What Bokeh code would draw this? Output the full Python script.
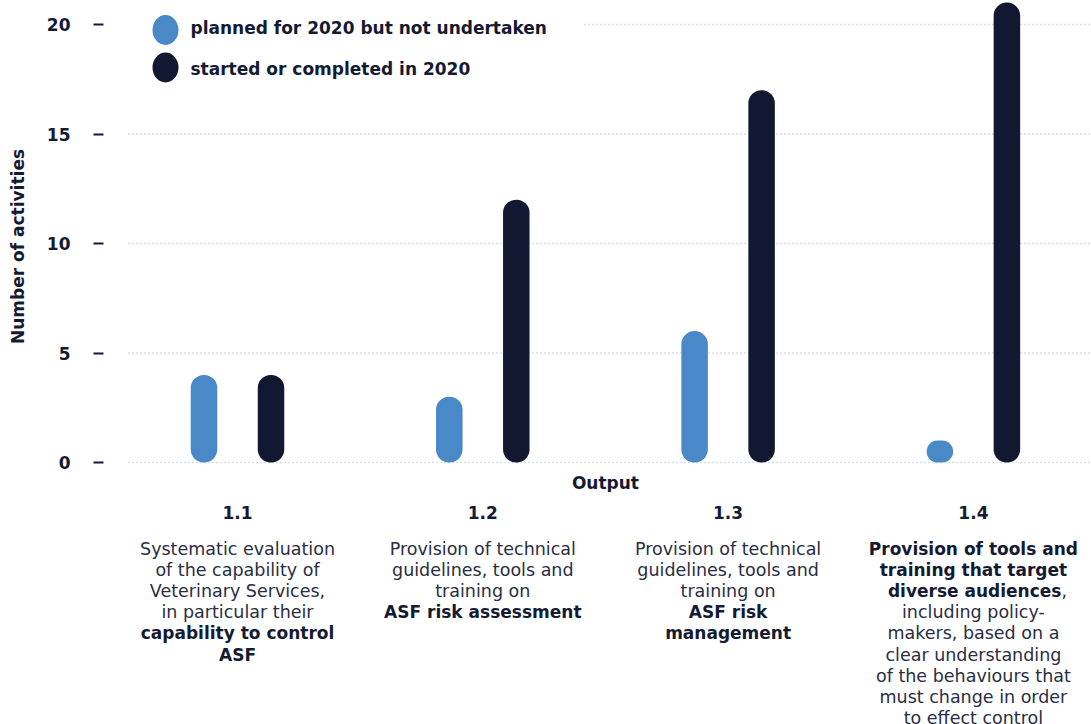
import numpy as np
from bokeh.plotting import figure
from bokeh.layouts import column
from bokeh.models import Range1d, FixedTicker, ColumnDataSource
from bokeh.core.properties import value
from bokeh.embed import file_html
from bokeh.resources import INLINE

# ---------------- data ----------------
categories = ["1.1", "1.2", "1.3", "1.4"]
planned = [4, 3, 6, 1]          # planned for 2020 but not undertaken
started = [4, 12, 17, 21]       # started or completed in 2020
series_labels = ["planned for 2020 but not undertaken", "started or completed in 2020"]
y_ticks = [0, 5, 10, 15, 20]
y_title = "Number of activities"
x_title = "Output"

desc_1_1 = [("Systematic evaluation", "r"), ("of the capability of", "r"),
            ("Veterinary Services,", "r"), ("in particular their", "r"),
            ("capability to control", "b"), ("ASF", "b")]
desc_1_2 = [("Provision of technical", "r"), ("guidelines, tools and", "r"),
            ("training on", "r"), ("ASF risk assessment", "b")]
desc_1_3 = [("Provision of technical", "r"), ("guidelines, tools and", "r"),
            ("training on", "r"), ("ASF risk", "b"), ("management", "b")]
desc_1_4 = [("Provision of tools and", "b"), ("training that target", "b"),
            ("diverse audiences|,", "mix"), ("including policy-", "r"),
            ("makers, based on a", "r"), ("clear understanding", "r"),
            ("of the behaviours that", "r"), ("must change in order", "r"),
            ("to effect control", "r")]
descriptions = [desc_1_1, desc_1_2, desc_1_3, desc_1_4]

# ---------------- style / layout ----------------
LIGHT = "#4a89c8"
DARK = "#131832"
TEXT_DARK = "#151a33"
TEXT_REG = "#2a2d44"
GRID = "#a9c6d8"
FONT = "DejaVu Sans"

W = 1091
H1, H2 = 492, 232
FRAME_L = 103      # frame starts where the tick dashes end
GRID_L = 128       # dotted grid lines start here
ZERO_PX = 462      # pixel row of y = 0
PPU = 21.9         # pixels per activity
X0_PX = 237        # pixel column of the first category
STEP = 245.3       # pixels between categories


def dx(px):
    return (px - X0_PX) / STEP


def dy(py):
    return (ZERO_PX - py) / PPU


x_range = Range1d(dx(FRAME_L), dx(W))

p = figure(width=W, height=H1, output_backend="svg", toolbar_location=None,
           x_range=x_range, y_range=Range1d(dy(H1), dy(0)),
           min_border_left=FRAME_L, min_border_right=0,
           min_border_top=0, min_border_bottom=0)
p.outline_line_color = None
p.xaxis.visible = False
p.xgrid.visible = False
p.ygrid.visible = False

yax = p.yaxis[0]
yax.ticker = FixedTicker(ticks=y_ticks)
yax.axis_line_color = None
yax.minor_tick_line_color = None
yax.major_tick_in = 0
yax.major_tick_out = 10
yax.major_tick_line_color = TEXT_DARK
yax.major_tick_line_width = 2
yax.major_label_standoff = 23
yax.major_label_text_font = FONT
yax.major_label_text_font_style = "bold"
yax.major_label_text_font_size = "17px"
yax.major_label_text_color = TEXT_DARK
yax.axis_label = y_title
yax.axis_label_text_font = FONT
yax.axis_label_text_font_style = "bold"
yax.axis_label_text_font_size = "17px"
yax.axis_label_text_color = TEXT_DARK
yax.axis_label_standoff = 16

# dotted grid lines at the tick values
p.segment(x0=[dx(GRID_L)] * len(y_ticks), x1=[dx(W)] * len(y_ticks),
          y0=y_ticks, y1=y_ticks, line_color=GRID, line_dash="1 3", line_width=1.5)

# ---------------- bars ----------------
idx = np.arange(len(categories))
off = 33.5 / STEP
bw = 26.5 / STEP
p.vbar(x=idx - off, top=planned, bottom=0, width=bw, fill_color=LIGHT,
       line_color=None, border_radius=13)
p.vbar(x=idx + off, top=started, bottom=0, width=bw, fill_color=DARK,
       line_color=None, border_radius=13)

# ---------------- legend ----------------
p.quad(left=[dx(FRAME_L)], right=[dx(583)], bottom=[dy(92)], top=[dy(0)],
       fill_color="white", line_color=None)
p.ellipse(x=[dx(165), dx(165)], y=[dy(29.5), dy(67)], width=26, height=30,
          width_units="screen", height_units="screen",
          fill_color=[LIGHT, DARK], line_color=None)
p.text(x=[dx(190), dx(190)], y=[dy(27), dy(68)], text=series_labels,
       text_font=value(FONT), text_font_style="bold", text_font_size="17px",
       text_color=TEXT_DARK, text_baseline="middle", text_align="left")

p.text(x=[np.mean(idx)], y=[0], text=[x_title], y_offset=20,
       text_font=value(FONT), text_font_style="bold", text_font_size="17px",
       text_color=TEXT_DARK, text_align="center", text_baseline="middle")

# ---------------- lower panel: category numbers and descriptions ----------------
p2 = figure(width=W, height=H2, output_backend="svg", toolbar_location=None,
            x_range=x_range, y_range=Range1d(0, 1),
            min_border_left=FRAME_L, min_border_right=0,
            min_border_top=0, min_border_bottom=0)
p2.outline_line_color = None
p2.axis.visible = False
p2.grid.visible = False

p2.text(x=idx, y=[1] * len(idx), text=categories, y_offset=20,
        text_font=value(FONT), text_font_style="bold", text_font_size="17px",
        text_color=TEXT_DARK, text_align="center", text_baseline="middle")

reg = dict(x=[], y=[], off=[], text=[])
bold = dict(x=[], y=[], off=[], text=[])
mixb = dict(x=[], y=[], off=[], text=[])
mixr = dict(x=[], y=[], off=[], text=[])
for i, lines in enumerate(descriptions):
    for k, (t, kind) in enumerate(lines):
        yo = 56 + 21.2 * k
        if kind == "mix":
            b, r = t.split("|")
            for d, tt in ((mixb, b), (mixr, r)):
                d["x"].append(i); d["y"].append(1); d["off"].append(yo); d["text"].append(tt)
        else:
            d = bold if kind == "b" else reg
            d["x"].append(i); d["y"].append(1); d["off"].append(yo); d["text"].append(t)

common = dict(text_font=value(FONT), text_baseline="middle")
p2.text(x="x", y="y", text="text", y_offset="off", source=ColumnDataSource(reg),
        text_color=TEXT_REG, text_align="center", text_font_size="17.5px", **common)
p2.text(x="x", y="y", text="text", y_offset="off", source=ColumnDataSource(bold),
        text_color=TEXT_DARK, text_font_style="bold", text_align="center",
        text_font_size="17px", **common)
p2.text(x="x", y="y", text="text", y_offset="off", source=ColumnDataSource(mixb),
        text_color=TEXT_DARK, text_font_style="bold", text_align="right", x_offset=88,
        text_font_size="17px", **common)
p2.text(x="x", y="y", text="text", y_offset="off", source=ColumnDataSource(mixr),
        text_color=TEXT_REG, text_align="left", x_offset=88, text_font_size="17.5px", **common)

layout = column(p, p2, spacing=0)
open("out.html", "w").write(file_html(layout, INLINE))
